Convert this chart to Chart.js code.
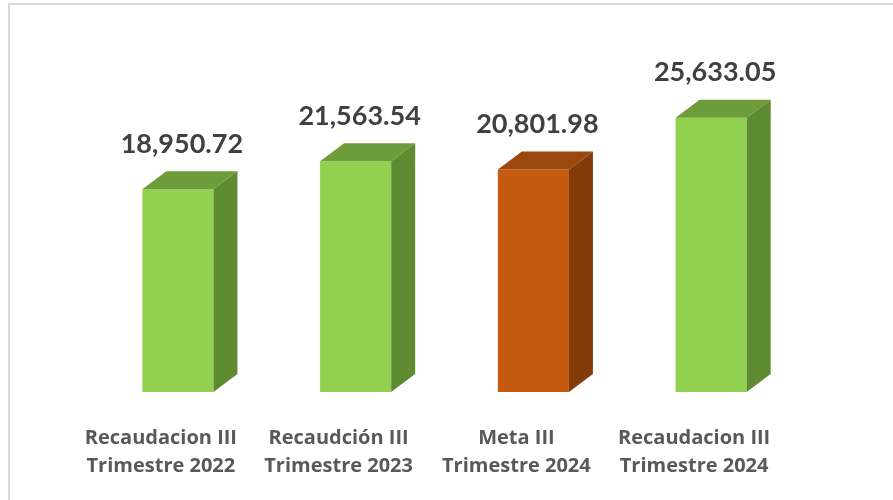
<!DOCTYPE html>
<html>
<head>
<meta charset="utf-8">
<script src="https://cdn.jsdelivr.net/npm/chart.js@4/dist/chart.umd.min.js"></script>
<style>
  html, body { margin: 0; padding: 0; background: #fff; }
  #wrap { width: 893px; height: 500px; position: relative; }
</style>
</head>
<body>
<div id="wrap"><canvas id="chart"></canvas></div>
<script>
const categories = [
  ['Recaudacion III', 'Trimestre 2022'],
  ['Recaudción III', 'Trimestre 2023'],
  ['Meta III', 'Trimestre 2024'],
  ['Recaudacion III', 'Trimestre 2024']
];
const amounts = [18950.72, 21563.54, 20801.98, 25633.05];
const frontColors = ['#92D050', '#92D050', '#C55A11', '#92D050'];
const topColors = ['#6E9C3A', '#6E9C3A', '#9B470E', '#6E9C3A'];
const sideColors = ['#5E8A32', '#5E8A32', '#833B0C', '#5E8A32'];

const DEPTH_X = 24;
const DEPTH_Y = 18;

const fmt = (v) => v.toLocaleString('en-US', { minimumFractionDigits: 2, maximumFractionDigits: 2 });

const frameBorder = {
  id: 'frameBorder',
  beforeDraw(chart) {
    const ctx = chart.ctx;
    ctx.save();
    ctx.strokeStyle = '#D9D9D9';
    ctx.lineWidth = 2;
    ctx.strokeRect(9, 4, 1000, 1000);
    ctx.restore();
  }
};

const bars3d = {
  id: 'bars3d',
  afterDatasetsDraw(chart) {
    const ctx = chart.ctx;
    const meta = chart.getDatasetMeta(0);
    ctx.save();
    meta.data.forEach((bar, i) => {
      const left = bar.x - bar.width / 2;
      const right = bar.x + bar.width / 2;
      const top = bar.y;
      const bottom = bar.base;
      // top face
      ctx.fillStyle = topColors[i];
      ctx.beginPath();
      ctx.moveTo(left, top);
      ctx.lineTo(right, top);
      ctx.lineTo(right + DEPTH_X, top - DEPTH_Y);
      ctx.lineTo(left + DEPTH_X, top - DEPTH_Y);
      ctx.closePath();
      ctx.fill();
      // side face
      ctx.fillStyle = sideColors[i];
      ctx.beginPath();
      ctx.moveTo(right, top);
      ctx.lineTo(right + DEPTH_X, top - DEPTH_Y);
      ctx.lineTo(right + DEPTH_X, bottom - DEPTH_Y);
      ctx.lineTo(right, bottom);
      ctx.closePath();
      ctx.fill();
      // value label
      ctx.fillStyle = '#404040';
      ctx.font = 'bold 27px Lato';
      ctx.textAlign = 'center';
      ctx.textBaseline = 'middle';
      ctx.fillText(fmt(amounts[i]), bar.x + 4, top - DEPTH_Y - 27);
    });
    ctx.restore();
  }
};

new Chart(document.getElementById('chart'), {
  type: 'bar',
  data: {
    labels: categories,
    datasets: [{
      data: amounts,
      backgroundColor: frontColors,
      borderWidth: 0,
      barPercentage: 1,
      categoryPercentage: 0.4
    }]
  },
  options: {
    responsive: true,
    maintainAspectRatio: false,
    animation: false,
    layout: { padding: { top: 71, left: 89, right: 93, bottom: 0 } },
    plugins: {
      legend: { display: false },
      tooltip: { enabled: false }
    },
    scales: {
      y: { display: false, min: 0, max: 30000 },
      x: {
        grid: { display: false, drawTicks: false },
        border: { display: false },
        ticks: {
          color: '#595959',
          font: { family: 'Open Sans', weight: 'bold', size: 20, lineHeight: 1.4 },
          labelOffset: -17,
          padding: 32,
          maxRotation: 0,
          autoSkip: false
        },
        afterFit(scale) { scale.height = 108; }
      }
    }
  },
  plugins: [frameBorder, bars3d]
});
</script>
</body>
</html>
